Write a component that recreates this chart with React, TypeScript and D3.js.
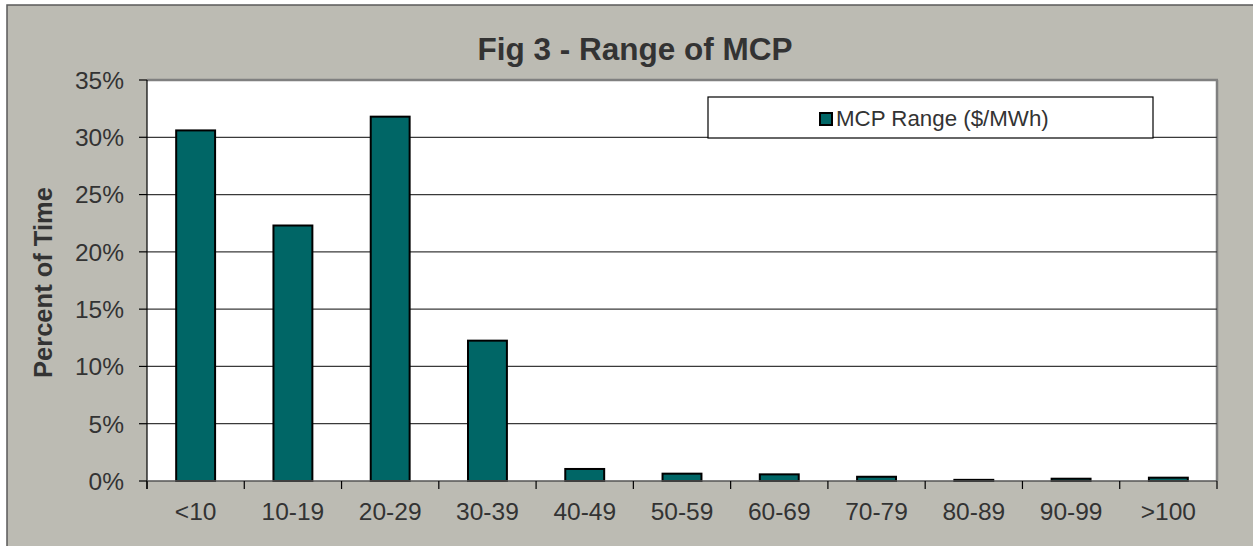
import React from "react";
import * as d3 from "d3";

// MCP range buckets ($/MWh) and share of time in each
const categories = ["<10", "10-19", "20-29", "30-39", "40-49", "50-59", "60-69", "70-79", "80-89", "90-99", ">100"];
const percentOfTime = [30.6, 22.3, 31.8, 12.25, 1.05, 0.64, 0.58, 0.37, 0.1, 0.2, 0.29];
const yTicks = [0, 5, 10, 15, 20, 25, 30, 35];

const App: React.FC = () => {
  const width = 1253;
  const height = 546;
  const plot = { left: 147, right: 1217, top: 80, bottom: 481 };

  const x = d3
    .scaleBand()
    .domain(categories)
    .range([plot.left, plot.right])
    .paddingInner(0.6)
    .paddingOuter(0.3);

  const y = d3.scaleLinear().domain([0, 35]).range([plot.bottom, plot.top]);

  const font = "Arial, 'Liberation Sans', sans-serif";
  const step = x.step();

  return (
    <svg width={width} height={height} style={{ position: "absolute", left: 0, top: 0 }} fontFamily={font}>
      {/* outer chart area */}
      <rect x={7} y={5} width={width} height={height} fill="#bcbbb3" stroke="#5a5a5a" strokeWidth={1.5} />

      {/* title */}
      <text x={635} y={60} textAnchor="middle" fontSize={31.5} fontWeight="bold" fill="#333">
        Fig 3 - Range of MCP
      </text>

      {/* plot area */}
      <rect x={plot.left} y={plot.top} width={plot.right - plot.left} height={plot.bottom - plot.top} fill="#fff" />
      <line x1={plot.left} x2={plot.right + 1} y1={plot.top} y2={plot.top} stroke="#808080" strokeWidth={2.5} />
      <line x1={plot.right} x2={plot.right} y1={plot.top} y2={plot.bottom} stroke="#808080" strokeWidth={2.5} />

      {/* gridlines */}
      {yTicks.slice(1, -1).map((t) => (
        <line key={t} x1={plot.left} x2={plot.right} y1={y(t)} y2={y(t)} stroke="#3a3a3a" strokeWidth={1.2} />
      ))}

      {/* bars */}
      {percentOfTime.map((v, i) => (
        <rect
          key={categories[i]}
          x={x(categories[i])!}
          y={y(v)}
          width={x.bandwidth()}
          height={plot.bottom - y(v)}
          fill="#006666"
          stroke="#000"
          strokeWidth={2}
        />
      ))}

      {/* y axis */}
      <line x1={plot.left} x2={plot.left} y1={plot.top} y2={plot.bottom + 8} stroke="#000" strokeWidth={1.2} />
      {yTicks.map((t) => (
        <g key={t}>
          <line x1={plot.left - 8} x2={plot.left} y1={y(t)} y2={y(t)} stroke="#000" strokeWidth={1.2} />
          <text x={124} y={y(t)} dy="0.36em" textAnchor="end" fontSize={24.5} fill="#333">
            {t}%
          </text>
        </g>
      ))}

      {/* x axis */}
      <line x1={plot.left} x2={plot.right} y1={plot.bottom} y2={plot.bottom} stroke="#555" strokeWidth={1.5} />
      {categories.map((c, i) => (
        <line
          key={"t" + c}
          x1={plot.left + i * step}
          x2={plot.left + i * step}
          y1={plot.bottom}
          y2={plot.bottom + 8}
          stroke="#000"
          strokeWidth={1.2}
        />
      ))}
      <line x1={plot.right} x2={plot.right} y1={plot.bottom} y2={plot.bottom + 8} stroke="#000" strokeWidth={1.2} />
      {categories.map((c) => (
        <text key={c} x={x(c)! + x.bandwidth() / 2} y={520} textAnchor="middle" fontSize={24.5} fill="#333">
          {c}
        </text>
      ))}

      {/* y axis title */}
      <text
        transform={`translate(52, ${(plot.top + plot.bottom) / 2 + 2}) rotate(-90)`}
        textAnchor="middle"
        fontSize={25.5}
        fontWeight="bold"
        fill="#333"
      >
        Percent of Time
      </text>

      {/* legend */}
      <rect x={708} y={97} width={445} height={41} fill="#fff" stroke="#000" strokeWidth={1.2} />
      <rect x={820} y={113} width={12} height={12} fill="#006666" stroke="#000" strokeWidth={2} />
      <text x={836} y={126} fontSize={22.3} fill="#333">
        MCP Range ($/MWh)
      </text>
    </svg>
  );
};

export default App;
